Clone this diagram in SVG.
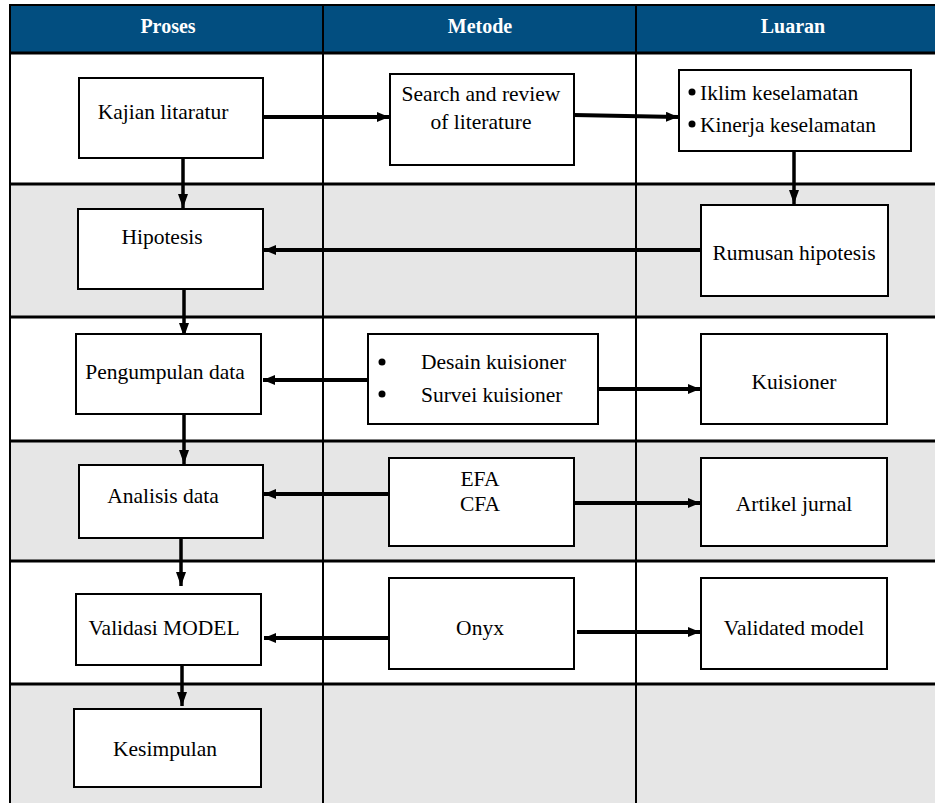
<svg xmlns="http://www.w3.org/2000/svg" width="935" height="803" viewBox="0 0 935 803">
<style>
.hd{font-family:"Liberation Serif","Times New Roman",serif;font-size:20px;font-weight:bold;fill:#fff;text-anchor:middle}
.t{font-family:"Liberation Serif","Times New Roman",serif;font-size:21.5px;fill:#000}
.c{text-anchor:middle}
.box{fill:#fff;stroke:#000;stroke-width:2}
.grid{stroke:#000;fill:none}
.ah{stroke:#000;stroke-width:4;fill:none;marker-end:url(#arr)}
.av{stroke:#000;stroke-width:3.5;fill:none;marker-end:url(#arrv)}
</style>
<defs>
<marker id="arr" viewBox="0 0 12 10" refX="12" refY="5" markerWidth="12" markerHeight="10" markerUnits="userSpaceOnUse" orient="auto"><path d="M0,0 L12,5 L0,10 z" fill="#000"/></marker>
<marker id="arrv" viewBox="0 0 14 10" refX="14" refY="5" markerWidth="14" markerHeight="10" markerUnits="userSpaceOnUse" orient="auto"><path d="M0,0 L14,5 L0,10 z" fill="#000"/></marker>
</defs>
<rect width="935" height="803" fill="#fff"/>
<g id="table">
<rect x="10" y="6" width="925" height="47" fill="#024e80"/>
<rect x="10" y="184" width="925" height="133" fill="#e6e6e6"/>
<rect x="10" y="441" width="925" height="120" fill="#e6e6e6"/>
<rect x="10" y="684" width="925" height="119" fill="#e6e6e6"/>
<line class="grid" x1="9" y1="5" x2="935" y2="5" stroke-width="2"/>
<line class="grid" x1="9" y1="53" x2="935" y2="53" stroke-width="3"/>
<line class="grid" x1="9" y1="184" x2="935" y2="184" stroke-width="3"/>
<line class="grid" x1="9" y1="317" x2="935" y2="317" stroke-width="3"/>
<line class="grid" x1="9" y1="441" x2="935" y2="441" stroke-width="3"/>
<line class="grid" x1="9" y1="561" x2="935" y2="561" stroke-width="3"/>
<line class="grid" x1="9" y1="684" x2="935" y2="684" stroke-width="3"/>
<line class="grid" x1="10" y1="5" x2="10" y2="803" stroke-width="2"/>
<line class="grid" x1="323" y1="5" x2="323" y2="803" stroke-width="2"/>
<line class="grid" x1="636" y1="5" x2="636" y2="803" stroke-width="2"/>
<text class="hd" x="168" y="33">Proses</text>
<text class="hd" x="480" y="33">Metode</text>
<text class="hd" x="793" y="33">Luaran</text>
</g>
<g id="connectors">
<line class="ah" x1="263" y1="117" x2="389" y2="117"/>
<line class="ah" x1="574" y1="115" x2="678" y2="117"/>
<line class="av" x1="794" y1="149" x2="794" y2="204"/>
<line class="av" x1="183" y1="159" x2="183" y2="208"/>
<line class="ah" x1="701" y1="250" x2="264" y2="250"/>
<line class="av" x1="184" y1="290" x2="184" y2="337"/>
<line class="ah" x1="367" y1="380" x2="263" y2="380"/>
<line class="ah" x1="598" y1="389" x2="700" y2="389"/>
<line class="av" x1="184" y1="414" x2="184" y2="464"/>
<line class="ah" x1="389" y1="494" x2="264" y2="494"/>
<line class="ah" x1="574" y1="503" x2="700" y2="503"/>
<line class="av" x1="181" y1="538" x2="181" y2="586"/>
<line class="ah" x1="388" y1="638" x2="264" y2="638"/>
<line class="ah" x1="577" y1="632" x2="700" y2="632"/>
<line class="av" x1="182" y1="655" x2="182" y2="706"/>
</g>
<g id="n-kajian"><rect class="box" x="79" y="78" width="184" height="80"/><text class="t c" x="163" y="119">Kajian litaratur</text></g>
<g id="n-hipotesis"><rect class="box" x="78" y="209" width="185" height="80"/><text class="t c" x="162" y="244">Hipotesis</text></g>
<g id="n-pengumpulan"><rect class="box" x="76" y="334" width="185" height="80"/><text class="t c" x="165" y="379">Pengumpulan data</text></g>
<g id="n-analisis"><rect class="box" x="79" y="465" width="184" height="73"/><text class="t c" x="163" y="503">Analisis data</text></g>
<g id="n-validasi"><rect class="box" x="76" y="594" width="185" height="71"/><text class="t c" x="164" y="635">Validasi MODEL</text></g>
<g id="n-kesimpulan"><rect class="box" x="74" y="709" width="187" height="78"/><text class="t c" x="165" y="756">Kesimpulan</text></g>
<g id="n-search"><rect class="box" x="390" y="74" width="184" height="91"/><text class="t c" x="481" y="101">Search and review</text><text class="t c" x="481" y="129">of literature</text></g>
<g id="n-desain"><rect class="box" x="368" y="334" width="230" height="90"/><circle cx="382" cy="362" r="3.5"/><circle cx="382" cy="394" r="3.5"/><text class="t" x="421" y="369">Desain kuisioner</text><text class="t" x="421" y="402">Survei kuisioner</text></g>
<g id="n-efa"><rect class="box" x="389" y="458" width="185" height="88"/><text class="t c" x="480" y="486">EFA</text><text class="t c" x="480" y="511">CFA</text></g>
<g id="n-onyx"><rect class="box" x="389" y="578" width="185" height="91"/><text class="t c" x="480" y="635">Onyx</text></g>
<g id="n-iklim"><rect class="box" x="679" y="70" width="232" height="81"/><circle cx="692" cy="92" r="3.5"/><circle cx="692" cy="124" r="3.5"/><text class="t" x="700" y="100">Iklim keselamatan</text><text class="t" x="700" y="132">Kinerja keselamatan</text></g>
<g id="n-rumusan"><rect class="box" x="701" y="205" width="187" height="91"/><text class="t c" x="794" y="260">Rumusan hipotesis</text></g>
<g id="n-kuisioner"><rect class="box" x="701" y="334" width="186" height="90"/><text class="t c" x="794" y="389">Kuisioner</text></g>
<g id="n-artikel"><rect class="box" x="701" y="458" width="186" height="88"/><text class="t c" x="794" y="511">Artikel jurnal</text></g>
<g id="n-validated"><rect class="box" x="701" y="578" width="186" height="91"/><text class="t c" x="794" y="635">Validated model</text></g>
</svg>
